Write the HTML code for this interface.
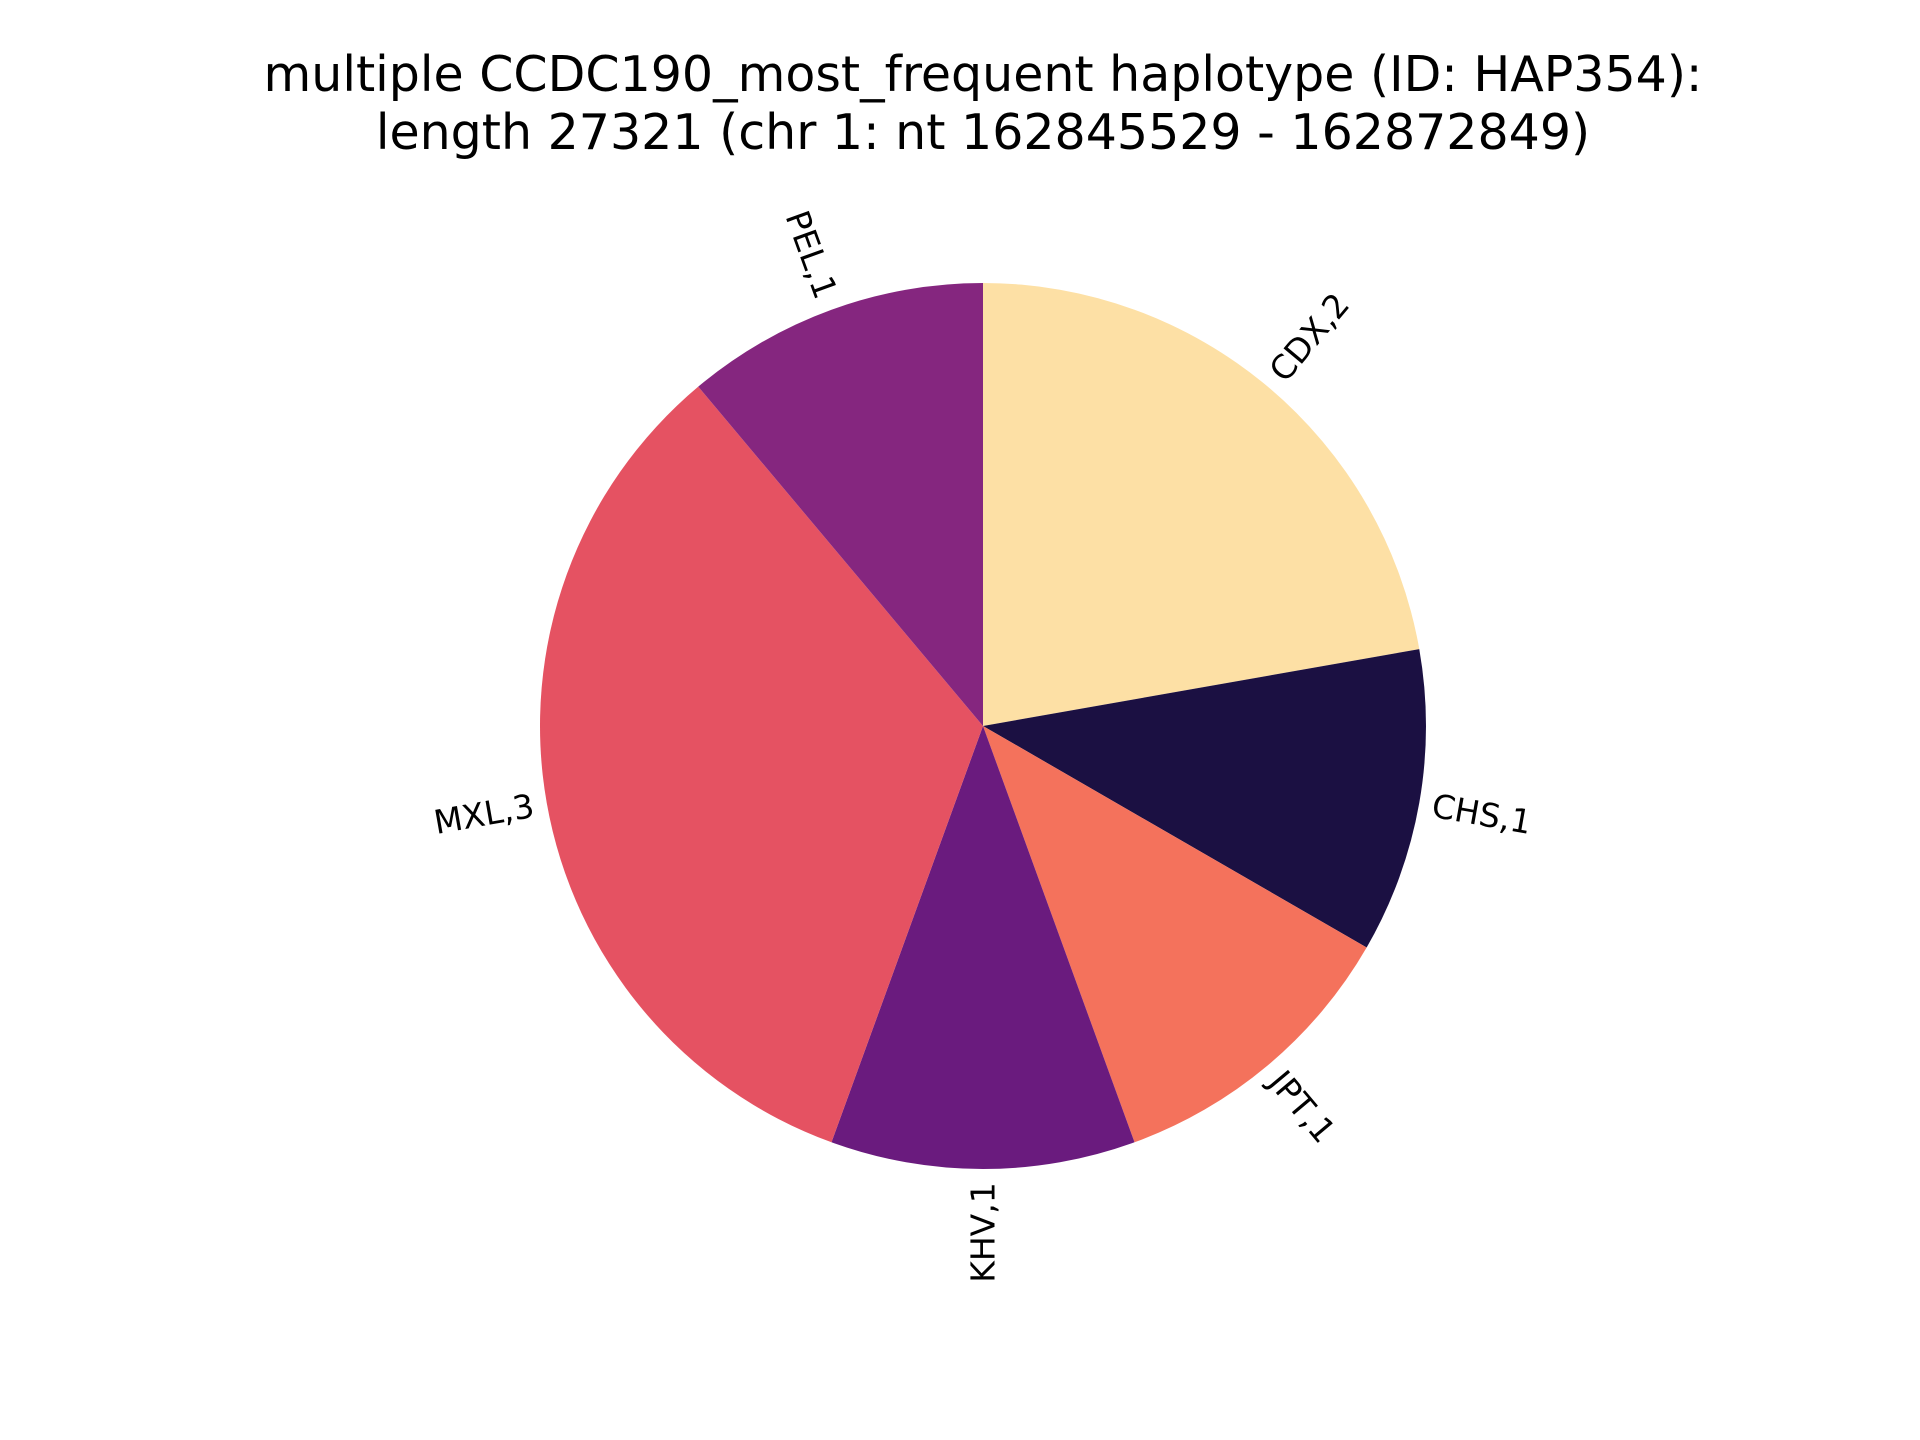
<!DOCTYPE html>
<html><head><meta charset="utf-8"><style>
html,body{margin:0;padding:0;background:#fff;}
svg{display:block;font-family:"DejaVu Sans","Liberation Sans",sans-serif;}
</style></head><body>
<svg id="chart" width="1920" height="1440" viewBox="0 0 1920 1440">
<rect width="1920" height="1440" fill="#fff"/>
<text x="983" y="91" font-size="49" text-anchor="middle" fill="#000">multiple CCDC190_most_frequent haplotype (ID: HAP354):</text>
<text x="983" y="149" font-size="49" text-anchor="middle" fill="#000">length 27321 (chr 1: nt 162845529 - 162872849)</text>
<g id="slices"></g>
<g id="labels"></g>
</svg>
<script>
const categories = ["CDX","CHS","JPT","KHV","MXL","PEL"];
const values = [2,1,1,1,3,1];
const colors = ["#fde0a5","#1b1042","#f4725c","#6a1b7e","#e55262","#85267f"];
const cx=983, cy=726, R=443, startAngle=90, labelDist=1.03;
const NS="http://www.w3.org/2000/svg";
const total = values.reduce((a,b)=>a+b,0);
const gS=document.getElementById('slices'), gL=document.getElementById('labels');
function pt(deg,r){const a=deg*Math.PI/180;return [cx+r*Math.cos(a), cy-r*Math.sin(a)];}
let cur=startAngle;
values.forEach((v,i)=>{
  const sweep=v/total*360;
  const a0=cur, a1=cur-sweep;
  const p0=pt(a0,R), p1=pt(a1,R);
  const large=sweep>180?1:0;
  const path=document.createElementNS(NS,'path');
  path.setAttribute('d',`M${cx},${cy} L${p0[0]},${p0[1]} A${R},${R} 0 ${large} 1 ${p1[0]},${p1[1]} Z`);
  path.setAttribute('fill',colors[i]);
  
  
  gS.appendChild(path);
  const mid=(a0+a1)/2;
  const lp=pt(mid,R*labelDist);
  const right=Math.cos(mid*Math.PI/180)>1e-9;
  const rot=mid+(right?0:180);
  const t=document.createElementNS(NS,'text');
  t.textContent=categories[i]+','+v;
  t.setAttribute('font-size','33');
  t.setAttribute('fill','#000');
  
  
  t.setAttribute('dominant-baseline','central');
  t.setAttribute('text-anchor', right?'start':'end');
  t.setAttribute('transform',`translate(${lp[0]},${lp[1]}) rotate(${-rot})`);
  gL.appendChild(t);
  cur=a1;
});
</script>
</body></html>
